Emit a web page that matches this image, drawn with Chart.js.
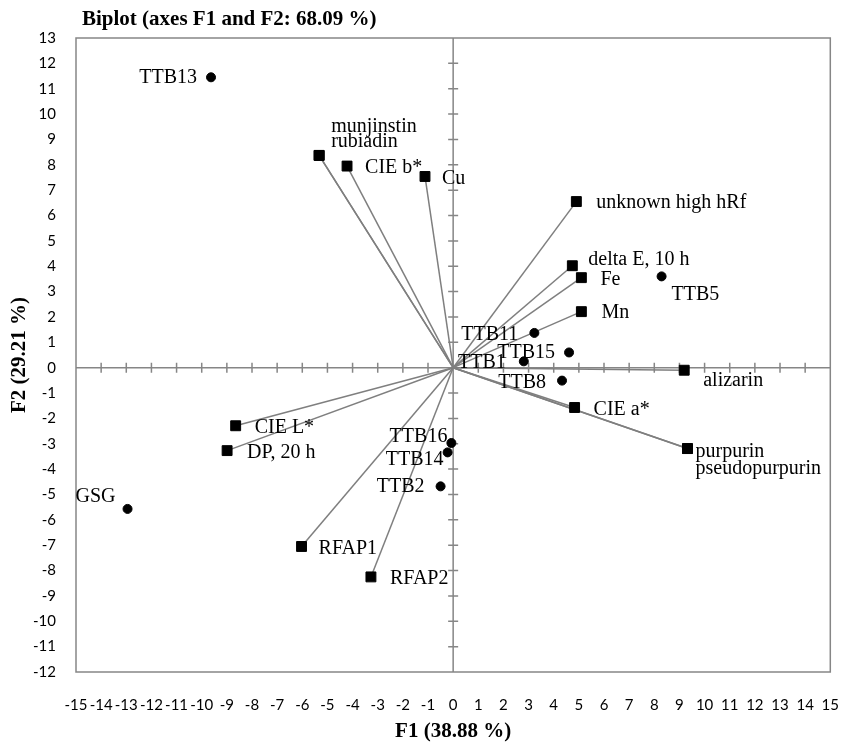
<!DOCTYPE html>
<html>
<head>
<meta charset="utf-8">
<title>Biplot (axes F1 and F2)</title>
<script src="https://cdn.jsdelivr.net/npm/chart.js@4.4.1/dist/chart.umd.min.js"></script>
<style>
  html, body { margin: 0; padding: 0; background: #fff; }
  #wrap { width: 863px; height: 746px; }
</style>
</head>
<body>
<div id="wrap"><canvas id="biplot" width="863" height="746"></canvas></div>
<script>
// observations (circles)
const obsNames = ['TTB13', 'TTB5', 'TTB11', 'TTB15', 'TTB1', 'TTB8', 'TTB16', 'TTB14', 'TTB2', 'GSG'];
const obsF1 = [-9.63, 8.29, 3.23, 4.61, 2.81, 4.33, -0.07, -0.22, -0.50, -12.95];
const obsF2 = [11.45, 3.60, 1.37, 0.60, 0.25, -0.51, -2.97, -3.34, -4.68, -5.57];

// variables (squares, drawn as vectors from the origin)
const varNames = ['munjinstin', 'rubiadin', 'CIE b*', 'Cu', 'unknown high hRf', 'delta E, 10 h', 'Fe', 'Mn',
                  'alizarin', 'CIE a*', 'purpurin', 'pseudopurpurin', 'CIE L*', 'DP, 20 h', 'RFAP1', 'RFAP2'];
const varF1 = [-5.33, -5.33, -4.22, -1.12, 4.90, 4.74, 5.10, 5.10, 9.19, 4.83, 9.32, 9.32, -8.65, -8.99, -6.03, -3.27];
const varF2 = [8.37, 8.37, 7.95, 7.54, 6.55, 4.02, 3.55, 2.21, -0.10, -1.57, -3.19, -3.19, -2.29, -3.27, -7.05, -8.25];

const titleText = 'Biplot (axes F1 and F2: 68.09 %)';
const xTitle = 'F1 (38.88 %)';
const yTitle = 'F2 (29.21 %)';

// label placement next to each mark: [dx, dy, align]
const labelPlace = {
    'TTB13': [-14, 0, 'right'], 'TTB5': [10, 18, 'left'], 'TTB11': [-16, 2, 'right'],
    'TTB15': [-14, 0, 'right'], 'TTB1': [-18, 1, 'right'], 'TTB8': [-16, 2, 'right'],
    'TTB16': [-4, -6, 'right'], 'TTB14': [-4, 7, 'right'], 'TTB2': [-16, 0, 'right'],
    'GSG': [-12, -12, 'right'],
    'munjinstin': [12, -29, 'left'], 'rubiadin': [12, -14, 'left'], 'CIE b*': [18, 2, 'left'],
    'Cu': [17, 2, 'left'], 'unknown high hRf': [20, 1, 'left'], 'delta E, 10 h': [16, -6, 'left'],
    'Fe': [19, 2, 'left'], 'Mn': [20, 1, 'left'], 'alizarin': [19, 11, 'left'], 'CIE a*': [19, 2, 'left'],
    'purpurin': [8, 3, 'left'], 'pseudopurpurin': [8, 20, 'left'], 'CIE L*': [19, 2, 'left'],
    'DP, 20 h': [20, 2, 'left'], 'RFAP1': [17, 2, 'left'], 'RFAP2': [19, 2, 'left']
};

const axisGray = '#868686';
const serif = '"Liberation Serif", "Times New Roman", serif';

const obsPoints = obsNames.map((n, i) => ({ x: obsF1[i], y: obsF2[i], name: n }));
const varPoints = varNames.map((n, i) => ({ x: varF1[i], y: varF2[i], name: n }));

// one line dataset per variable vector
const vectorSets = varPoints.map(p => ({
    type: 'line',
    data: [{ x: 0, y: 0 }, { x: p.x, y: p.y }],
    borderColor: '#7f7f7f',
    borderWidth: 1.5,
    pointRadius: 0,
    fill: false
}));

// frame, axes through the origin, point labels and title
const biplotDecor = {
    id: 'biplotDecor',
    beforeDatasetsDraw(chart) {
        const { ctx, chartArea: a, scales: { x, y } } = chart;
        const x0 = x.getPixelForValue(0);
        const y0 = y.getPixelForValue(0);
        ctx.save();
        ctx.strokeStyle = axisGray;
        ctx.lineWidth = 1.5;
        ctx.strokeRect(a.left, a.top, a.width, a.height);
        ctx.beginPath();
        ctx.moveTo(a.left, y0); ctx.lineTo(a.right, y0);
        ctx.moveTo(x0, a.top); ctx.lineTo(x0, a.bottom);
        for (let v = x.min + 1; v < x.max; v++) {
            const px = x.getPixelForValue(v);
            ctx.moveTo(px, y0 - 5); ctx.lineTo(px, y0 + 5);
        }
        for (let v = y.min + 1; v < y.max; v++) {
            const py = y.getPixelForValue(v);
            ctx.moveTo(x0 - 5, py); ctx.lineTo(x0 + 5, py);
        }
        ctx.stroke();
        ctx.restore();
    },
    afterDatasetsDraw(chart) {
        const { ctx, chartArea: a, scales: { x, y } } = chart;
        ctx.save();
        ctx.fillStyle = '#000';
        ctx.font = '20px ' + serif;
        ctx.textBaseline = 'middle';
        obsPoints.concat(varPoints).forEach(p => {
            const [dx, dy, align] = labelPlace[p.name];
            ctx.textAlign = align;
            ctx.fillText(p.name, x.getPixelForValue(p.x) + dx, y.getPixelForValue(p.y) + dy);
        });
        ctx.font = 'bold 21px ' + serif;
        ctx.textAlign = 'left';
        ctx.fillText(titleText, a.left + 6, 20);
        ctx.restore();
    }
};

const ctx = document.getElementById('biplot').getContext('2d');
const biplot = new Chart(ctx, {
    type: 'scatter',
    data: {
        datasets: [
            {
                label: 'Observations',
                data: obsPoints,
                backgroundColor: '#000',
                borderColor: '#000',
                pointStyle: 'circle',
                pointRadius: 4.5
            },
            {
                label: 'Variables',
                data: varPoints,
                backgroundColor: '#000',
                borderColor: '#000',
                pointStyle: 'rect',
                pointRadius: 7
            },
            ...vectorSets
        ]
    },
    options: {
        responsive: false,
        animation: false,
        layout: { padding: { top: 38, right: 11, bottom: 0, left: 0 } },
        plugins: {
            legend: { display: false },
            tooltip: { enabled: false }
        },
        scales: {
            x: {
                type: 'linear',
                min: -15, max: 15,
                grid: { display: false, drawTicks: false },
                border: { display: false },
                ticks: {
                    stepSize: 1, autoSkip: false, maxRotation: 0, padding: 24,
                    color: '#000', font: { family: 'Lato', size: 15 }
                },
                title: {
                    display: true, text: xTitle, color: '#000',
                    font: { family: serif, size: 21, weight: 'bold' },
                    padding: { top: 0, bottom: 2 }
                },
                afterFit(s) { s.height = 74; }
            },
            y: {
                type: 'linear',
                min: -12, max: 13,
                grid: { display: false, drawTicks: false },
                border: { display: false },
                ticks: {
                    stepSize: 1, autoSkip: false, padding: 20,
                    color: '#000', font: { family: 'Lato', size: 15 }
                },
                title: {
                    display: true, text: yTitle, color: '#000',
                    font: { family: serif, size: 21, weight: 'bold' },
                    padding: { top: 7, bottom: 0 }
                },
                afterFit(s) { s.width = 76; }
            }
        }
    },
    plugins: [biplotDecor]
});
</script>
</body>
</html>
